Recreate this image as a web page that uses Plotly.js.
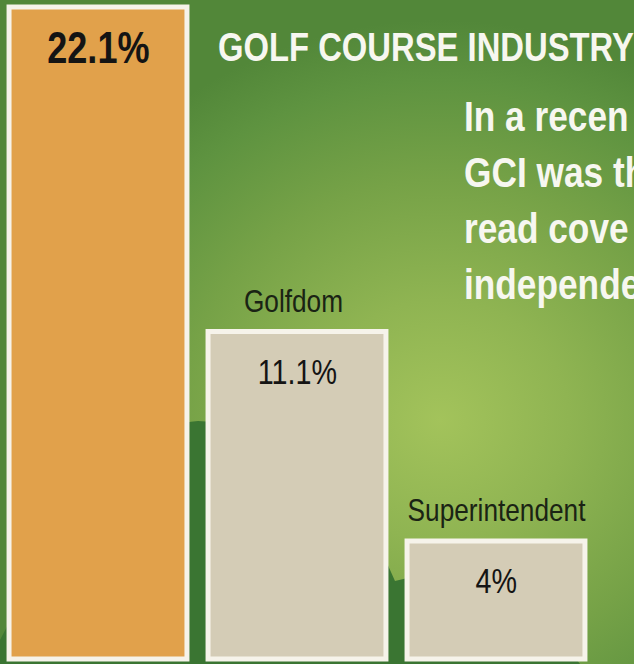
<!DOCTYPE html>
<html>
<head>
<meta charset="utf-8">
<script src="https://cdn.plot.ly/plotly-3.0.1.min.js"></script>
<style>
  html, body { margin: 0; padding: 0; overflow: hidden; }
  #wrap {
    width: 634px; height: 664px; position: relative; overflow: hidden;
    background:
      radial-gradient(ellipse 430px 400px at 440px 420px, #a3c35b 0%, #8fb452 30%, #76a247 60%, #5e9340 85%, #528739 100%);
  }
  #chart { width: 634px; height: 664px; }
</style>
</head>
<body>
<div id="wrap"><div id="chart"></div></div>
<script>
// ---- data ----
const categories = ["Golf Course Industry", "Golfdom", "Superintendent"];
const values = [22.1, 11.1, 4];
const valueLabels = ["22.1%", "11.1%", "4%"];
const introLines = ["In a recen", "GCI was th", "read cove", "independe"];

// ---- styles ----
const FONT = "'Liberation Sans', Arial, sans-serif";
const NARROW_SCALE = 0.82;  // emulate a condensed face
const barColors = ["#e1a14b", "#d4ccb6", "#d4ccb6"];
const W = 634, H = 664;
const px = (x, y) => [(x / W).toFixed(4), (1 - y / H).toFixed(4)];
function pathFrom(cmds) {
  return cmds.map(c => c[0] + " " + c.slice(1).map(p => px(p[0], p[1]).join(",")).join(" ")).join(" ") + " Z";
}

const trace = {
  type: "bar",
  x: categories,
  y: values,
  width: 0.894,
  marker: { color: barColors, line: { color: "#f6f3ea", width: 5 } },
  hoverinfo: "none"
};

const annotations = [];
values.forEach((v, i) => {
  annotations.push({
    x: categories[i], y: v, xref: "x", yref: "y",
    text: valueLabels[i], showarrow: false,
    xanchor: "center", yanchor: "middle", yshift: -40,
    font: { family: FONT, size: i === 0 ? 44 : 35, color: "#141414", weight: i === 0 ? 700 : 400 }
  });
});
for (let i = 1; i < categories.length; i++) {
  annotations.push({
    x: categories[i], y: values[i], xref: "x", yref: "y",
    text: categories[i], showarrow: false,
    xanchor: "center", yanchor: "middle", yshift: 31, xshift: i === 1 ? -4 : 0,
    font: { family: FONT, size: 32, color: "#1a2314" }
  });
}
annotations.push({
  x: 216 / W, y: 1 - 47 / H, xref: "paper", yref: "paper",
  text: categories[0].toUpperCase(), showarrow: false, align: "left",
  xanchor: "left", yanchor: "middle",
  font: { family: FONT, size: 40, color: "#f7f7f0", weight: 700 }
});
annotations.push({
  x: 462 / W, y: 1 - 90 / H, xref: "paper", yref: "paper",
  text: introLines.join("<br>"), showarrow: false, align: "left",
  xanchor: "left", yanchor: "top",
  font: { family: FONT, size: 43, color: "#f7f7f0", weight: 700 }
});

const hill = {
  type: "path", xref: "paper", yref: "paper", layer: "below",
  fillcolor: "#3a7532", line: { width: 0 },
  path: pathFrom([["M", [0, 640]], ["Q", [110, 425], [198, 421]], ["Q", [330, 425], [395, 581]],
                  ["L", [420, 575]], ["Q", [520, 580], [580, 664]], ["L", [0, 664]]])
};

const layout = {
  width: W, height: H,
  margin: { l: 0, r: 0, t: 0, b: 0, pad: 0 },
  paper_bgcolor: "rgba(0,0,0,0)",
  plot_bgcolor: "rgba(0,0,0,0)",
  showlegend: false,
  xaxis: { type: "category", range: [-0.4925, 2.6935], visible: false, fixedrange: true },
  yaxis: { range: [-0.17, 22.34], visible: false, fixedrange: true },
  annotations: annotations,
  shapes: [hill]
};

Plotly.newPlot("chart", [trace], layout, { displayModeBar: false, staticPlot: true }).then(() => {
  document.querySelectorAll("#chart .annotation-text").forEach(t => {
    const anchor = t.getAttribute("text-anchor");
    t.style.transformBox = "fill-box";
    t.style.transformOrigin = anchor === "start" ? "left center" : (anchor === "end" ? "right center" : "center center");
    t.style.transform = "scaleX(" + NARROW_SCALE + ")";
  });
});
</script>
</body>
</html>
